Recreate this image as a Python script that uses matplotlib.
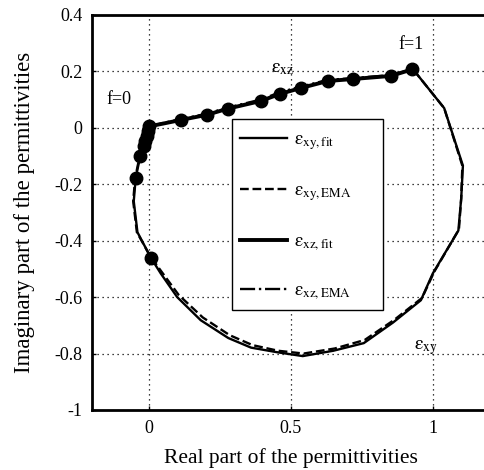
import matplotlib
matplotlib.use("Agg")
import matplotlib.pyplot as plt
from matplotlib.patches import Rectangle

plt.rcParams['font.family'] = ['Liberation Serif', 'DejaVu Serif']
plt.rcParams['mathtext.fontset'] = 'stix'

# eps_xy fit (f = 0 -> 1)
xy_fit_re = [0.0, -0.01, -0.02, -0.03, -0.046, -0.053, -0.04, 0.007, 0.042, 0.10, 0.183,
             0.28, 0.36, 0.45, 0.542, 0.65, 0.757, 0.86, 0.958, 1.0, 1.09, 1.1, 1.106,
             1.04, 0.93]
xy_fit_im = [0.005, -0.03, -0.07, -0.10, -0.177, -0.26, -0.37, -0.46, -0.516, -0.60, -0.682,
             -0.745, -0.779, -0.795, -0.809, -0.79, -0.763, -0.69, -0.611, -0.516, -0.364,
             -0.25, -0.134, 0.07, 0.208]
# eps_xy EMA
xy_ema_re = [0.0, -0.012, -0.022, -0.032, -0.048, -0.055, -0.042, 0.005, 0.045, 0.105, 0.19,
             0.285, 0.365, 0.455, 0.545, 0.655, 0.76, 0.865, 0.962, 1.005, 1.092, 1.1, 1.104,
             1.04, 0.93]
xy_ema_im = [0.005, -0.03, -0.07, -0.10, -0.177, -0.26, -0.37, -0.455, -0.51, -0.592, -0.672,
             -0.735, -0.77, -0.79, -0.80, -0.782, -0.752, -0.68, -0.603, -0.51, -0.36,
             -0.25, -0.134, 0.07, 0.208]
# eps_xz fit
xz_fit_re = [0.0, 0.05, 0.113, 0.204, 0.278, 0.394, 0.461, 0.535, 0.63, 0.718, 0.852, 0.93]
xz_fit_im = [0.005, 0.015, 0.028, 0.046, 0.068, 0.095, 0.12, 0.141, 0.166, 0.173, 0.184, 0.208]
# eps_xz EMA
xz_ema_re = [0.0, 0.05, 0.113, 0.204, 0.278, 0.394, 0.461, 0.535, 0.63, 0.718, 0.852, 0.93]
xz_ema_im = [0.005, 0.017, 0.031, 0.05, 0.072, 0.1, 0.126, 0.146, 0.17, 0.176, 0.187, 0.208]
# measured points
pts_re = [0.0, -0.003, -0.008, -0.012, -0.018, -0.03, -0.046, 0.007,
          0.113, 0.204, 0.278, 0.394, 0.461, 0.535, 0.63, 0.718, 0.852, 0.925]
pts_im = [0.005, -0.01, -0.03, -0.045, -0.065, -0.10, -0.177, -0.46,
          0.028, 0.046, 0.068, 0.095, 0.12, 0.141, 0.166, 0.173, 0.184, 0.208]

xticks = [0, 0.5, 1]
xticklabels = ['0', '0.5', '1']
yticks = [-1, -0.8, -0.6, -0.4, -0.2, 0, 0.2, 0.4]
yticklabels = ['-1', '-0.8', '-0.6', '-0.4', '-0.2', '0', '0.2', '0.4']

fig = plt.figure(figsize=(4.85, 4.70), dpi=100)
ax = fig.add_axes([0.1897, 0.1277, 0.8198, 0.8404])

ax.plot(xy_fit_re, xy_fit_im, '-', color='black', lw=1.7, label=r'$\mathrm{\varepsilon}_{\mathrm{xy,fit}}$')
ax.plot(xy_ema_re, xy_ema_im, '--', color='black', lw=1.7, label=r'$\mathrm{\varepsilon}_{\mathrm{xy,EMA}}$')
ax.plot(xz_fit_re, xz_fit_im, '-', color='black', lw=2.8, label=r'$\mathrm{\varepsilon}_{\mathrm{xz,fit}}$')
ax.plot(xz_ema_re, xz_ema_im, '-.', color='black', lw=1.7, label=r'$\mathrm{\varepsilon}_{\mathrm{xz,EMA}}$')
ax.plot(pts_re, pts_im, 'o', color='black', ms=9, lw=0)

ax.set_xlim(-0.2, 1.2)
ax.set_ylim(-1, 0.4)
ax.set_xticks(xticks)
ax.set_xticklabels(xticklabels)
ax.set_yticks(yticks)
ax.set_yticklabels(yticklabels)
ax.grid(True, linestyle=(0, (1, 3)), color='black', lw=0.9)
ax.tick_params(direction='in', length=3, width=1, labelsize=13, pad=7)
for s in ax.spines.values():
    s.set_linewidth(2)

ax.set_xlabel('Real part of the permittivities', fontsize=15.5, labelpad=8)
ax.set_ylabel('Imaginary part of the permittivities', fontsize=16.5, labelpad=14)

ax.text(-0.106, 0.102, 'f=0', fontsize=13, ha='center', va='center')
ax.text(0.923, 0.297, 'f=1', fontsize=13, ha='center', va='center')
ax.text(0.47, 0.212, r'$\mathrm{\varepsilon}_{\mathrm{xz}}$', fontsize=14, ha='center', va='center')
ax.text(0.975, -0.78, r'$\mathrm{\varepsilon}_{\mathrm{xy}}$', fontsize=14, ha='center', va='center')

box = Rectangle((0.352, 0.253), 0.732 - 0.352, 0.737 - 0.253, transform=ax.transAxes,
                facecolor='white', edgecolor='black', lw=1.0, zorder=4)
ax.add_patch(box)
leg = ax.legend(loc='upper left', bbox_to_anchor=(0.372, 0.705), fontsize=13.5,
                handlelength=2.5, labelspacing=1.6, borderaxespad=0, borderpad=0,
                frameon=False, handletextpad=0.4)
leg.set_zorder(5)

fig.savefig('out.png', dpi=100)
